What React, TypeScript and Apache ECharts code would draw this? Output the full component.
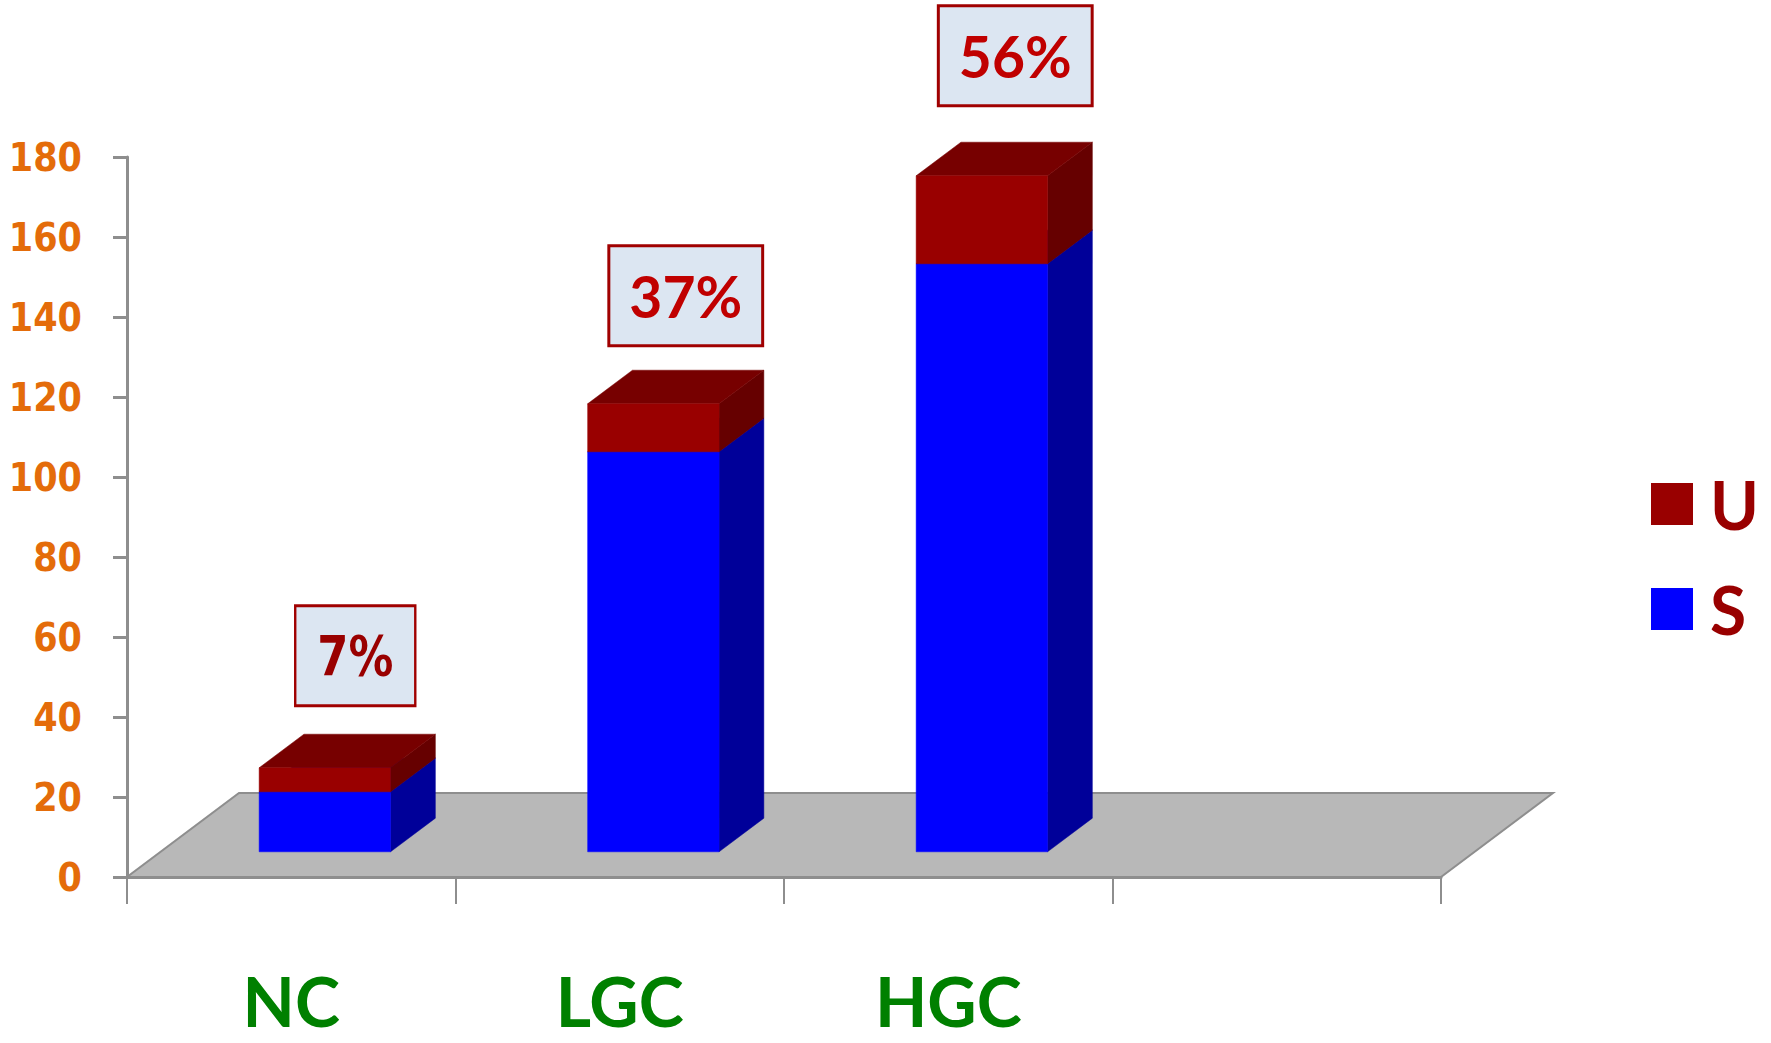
import React, { useEffect, useRef } from "react";
import * as echarts from "echarts";

// ---------- data ----------
const categories = ["NC", "LGC", "HGC", ""];
const seriesS = [15, 100, 147];
const seriesU = [6, 12, 22];
const pctLabels = ["7%", "37%", "56%"];
const yMin = 0;
const yMax = 180;
const yInterval = 20;

// ---------- layout / style constants ----------
const FLOOR_DX = 112;
const FLOOR_DY = 84;
const FRONT = 0.3;
const DEPTH = 0.4;
const BAR = 0.4;

const colorsS = { front: "#0000FF", side: "#000099", top: "#0000CC" };
const colorsU = { front: "#990000", side: "#660000", top: "#770000" };

const pctStyles = [
  { family: "DejaVu Sans", size: 56, color: "#990000", scaleX: 0.8, padX: 26, gap: 30, shiftX: 8 },
  { family: "Lato", size: 57, color: "#C00000", scaleX: 1, padX: 19, gap: 26, shiftX: 10 },
  { family: "Lato", size: 57, color: "#C00000", scaleX: 1, padX: 19, gap: 38, shiftX: 11 },
];

function barRender(colors: any) {
  return (params: any, api: any) => {
    const ci = api.value(0);
    const lo = api.value(1);
    const hi = api.value(2);
    const pLo = api.coord([ci, lo]);
    const pHi = api.coord([ci, hi]);
    const band = api.size([1, 0])[0];
    const bw = band * BAR;
    const ox = FLOOR_DX * FRONT;
    const oy = FLOOR_DY * FRONT;
    const dx = FLOOR_DX * DEPTH;
    const dy = FLOOR_DY * DEPTH;
    const x0 = pLo[0] - bw / 2 + ox;
    const x1 = x0 + bw;
    const yb = pLo[1] - oy;
    const yt = pHi[1] - oy;
    return {
      type: "group",
      children: [
        {
          type: "polygon",
          shape: { points: [[x1, yb], [x1 + dx, yb - dy], [x1 + dx, yt - dy], [x1, yt]] },
          style: { fill: colors.side, stroke: colors.side, lineWidth: 0.5 },
        },
        {
          type: "polygon",
          shape: { points: [[x0, yt], [x1, yt], [x1 + dx, yt - dy], [x0 + dx, yt - dy]] },
          style: { fill: colors.top, stroke: colors.top, lineWidth: 0.5 },
        },
        {
          type: "rect",
          shape: { x: x0, y: yt, width: bw, height: yb - yt },
          style: { fill: colors.front, stroke: colors.front, lineWidth: 0.5 },
        },
      ],
    };
  };
}

export default function App() {
  const ref = useRef<HTMLDivElement>(null);

  useEffect(() => {
    if (!ref.current) return;
    const chart = echarts.init(ref.current, null, { renderer: "svg" });

    const dataS = seriesS.map((v, i) => [i, 0, v]);
    const dataU = seriesU.map((v, i) => [i, seriesS[i], seriesS[i] + v]);
    const dataPct = seriesU.map((v, i) => [i, seriesS[i] + v]);

    const option: any = {
      animation: false,
      backgroundColor: "#FFFFFF",
      grid: {
        left: 127,
        right: 330,
        top: 157,
        bottom: 166,
        containLabel: false,
        outerBoundsMode: "none",
      },
      legend: {
        orient: "vertical",
        left: 1646,
        top: 466,
        data: ["U", "S"],
        icon: "rect",
        itemWidth: 42,
        itemHeight: 42,
        itemGap: 39,
        selectedMode: false,
        textStyle: {
          color: "#990000",
          fontFamily: "Lato",
          fontWeight: "bold",
          fontSize: 66,
          lineHeight: 42,
          padding: [0, 0, 0, 12],
        },
      },
      xAxis: {
        type: "category",
        data: categories,
        boundaryGap: true,
        z: 5,
        axisLine: { show: true, lineStyle: { color: "#8E8E8E", width: 3 } },
        axisTick: { show: true, length: 27, lineStyle: { color: "#8E8E8E", width: 2 } },
        axisLabel: {
          color: "#008000",
          fontFamily: "Lato",
          fontWeight: "bold",
          fontSize: 68,
          lineHeight: 58,
          margin: 94,
        },
        splitLine: { show: false },
      },
      yAxis: {
        type: "value",
        min: yMin,
        max: yMax,
        interval: yInterval,
        z: 5,
        axisLine: { show: true, lineStyle: { color: "#8E8E8E", width: 3 } },
        axisTick: { show: true, length: 14, lineStyle: { color: "#8E8E8E", width: 3 } },
        axisLabel: {
          color: "#E46C0A",
          fontFamily: "'DejaVu Sans Condensed', 'DejaVu Sans'",
          fontWeight: "bold",
          fontSize: 39,
          margin: 45,
        },
        splitLine: { show: false },
      },
      series: [
        {
          type: "custom",
          name: "floor",
          z: 1,
          clip: false,
          silent: true,
          data: [[0, 0]],
          renderItem: (params: any, api: any) => {
            const cs = params.coordSys;
            const x0 = cs.x;
            const x1 = cs.x + cs.width;
            const y0 = api.coord([0, 0])[1];
            return {
              type: "polygon",
              shape: {
                points: [
                  [x0, y0],
                  [x1, y0],
                  [x1 + FLOOR_DX, y0 - FLOOR_DY],
                  [x0 + FLOOR_DX, y0 - FLOOR_DY],
                ],
              },
              style: { fill: "#B8B8B8", stroke: "#8E8E8E", lineWidth: 2 },
            };
          },
        },
        {
          type: "custom",
          name: "S",
          z: 2,
          clip: false,
          itemStyle: { color: colorsS.front },
          encode: { x: 0, y: [1, 2] },
          data: dataS,
          renderItem: barRender(colorsS),
        },
        {
          type: "custom",
          name: "U",
          z: 3,
          clip: false,
          itemStyle: { color: colorsU.front },
          encode: { x: 0, y: [1, 2] },
          data: dataU,
          renderItem: barRender(colorsU),
        },
        {
          type: "custom",
          name: "pct",
          z: 4,
          clip: false,
          silent: true,
          encode: { x: 0, y: 1 },
          data: dataPct,
          renderItem: (params: any, api: any) => {
            const i = params.dataIndex;
            const ci = api.value(0);
            const tot = api.value(1);
            const p = api.coord([ci, tot]);
            const st = pctStyles[i];
            const cx = p[0] + FLOOR_DX * FRONT + (FLOOR_DX * DEPTH) / 2 + st.shiftX;
            const by = p[1] - FLOOR_DY * FRONT - FLOOR_DY * DEPTH - st.gap;
            return {
              type: "text",
              x: cx,
              y: by,
              scaleX: st.scaleX,
              style: {
                text: pctLabels[i],
                fontFamily: st.family,
                fontWeight: "bold",
                fontSize: st.size,
                lineHeight: 57,
                fill: st.color,
                align: "center",
                verticalAlign: "bottom",
                backgroundColor: "#DCE6F2",
                borderColor: "#A00000",
                borderWidth: 3,
                padding: [20, st.padX, 20, st.padX],
              },
            };
          },
        },
      ],
    };

    chart.setOption(option);
    return () => {
      chart.dispose();
    };
  }, []);

  return (
    <div
      ref={ref}
      style={{ position: "fixed", left: 0, top: 0, width: "1771px", height: "1043px" }}
    />
  );
}
